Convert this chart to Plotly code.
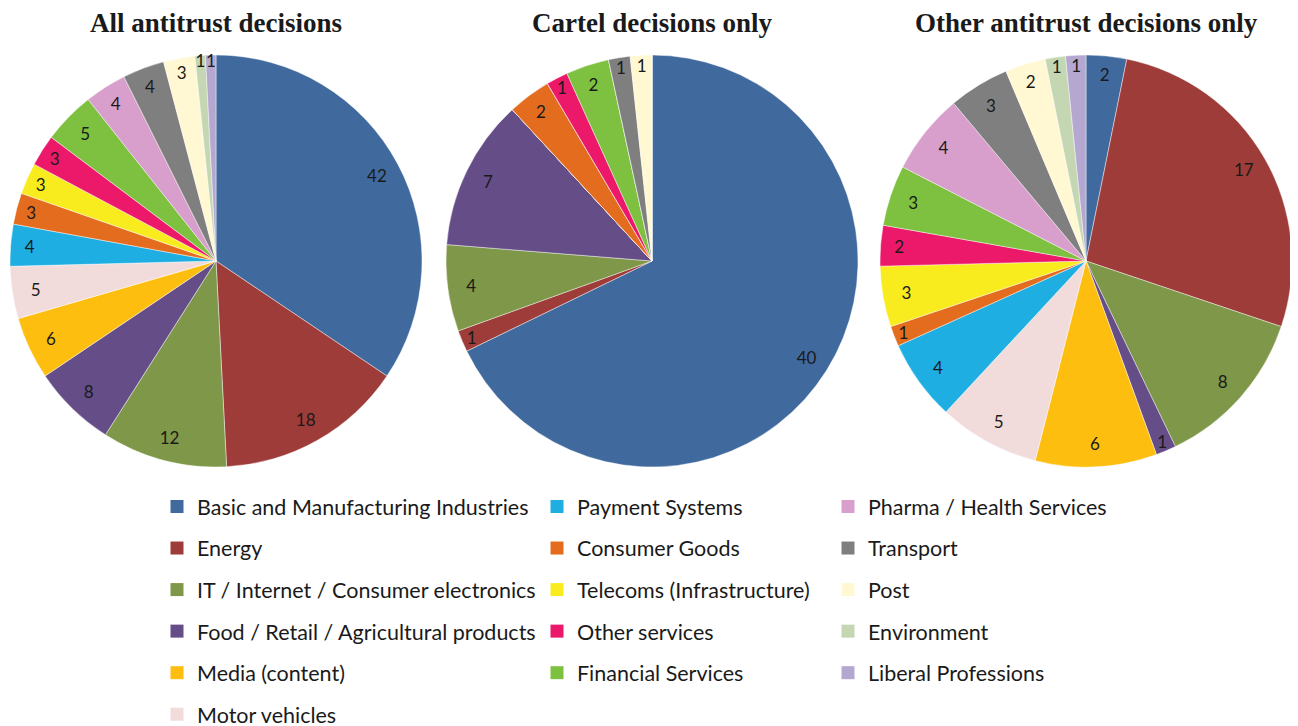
import plotly.graph_objects as go

W, H = 1298, 726
OFF = 8  # page body margin offset in the browser

categories = [
    "Basic and Manufacturing Industries",
    "Energy",
    "IT / Internet / Consumer electronics",
    "Food / Retail / Agricultural products",
    "Media (content)",
    "Motor vehicles",
    "Payment Systems",
    "Consumer Goods",
    "Telecoms (Infrastructure)",
    "Other services",
    "Financial Services",
    "Pharma / Health Services",
    "Transport",
    "Post",
    "Environment",
    "Liberal Professions",
]

colors = [
    "#40699E", "#9E3C39", "#7F9748", "#654D87", "#FDBE10", "#F2DCDB",
    "#1EAEE2", "#E46C1E", "#F9EC1E", "#EC1869", "#7EC140",
    "#D89ECC", "#7F7F7F", "#FFF8D2", "#C4D7B2", "#B4A8D0",
]

all_decisions = [42, 18, 12, 8, 6, 5, 4, 3, 3, 3, 5, 4, 4, 3, 1, 1]
cartel_decisions = [40, 1, 4, 7, 0, 0, 0, 2, 0, 1, 2, 0, 1, 1, 0, 0]
other_decisions = [2, 17, 8, 1, 6, 5, 4, 1, 3, 2, 3, 4, 3, 2, 1, 1]

titles = ["All antitrust decisions", "Cartel decisions only", "Other antitrust decisions only"]

# legend columns (column-major layout of the legend)
legend_columns = [categories[0:6], categories[6:11], categories[11:16]]

# pie layout in screen pixels (center x, center y, radius)
pie_cx = [216, 652, 1086]
pie_cy = 261
pie_r = 206

fig = go.Figure()

series = [all_decisions, cartel_decisions, other_decisions]
for i, vals in enumerate(series):
    cx = pie_cx[i] - OFF
    cy = pie_cy - OFF
    dom = dict(x=[(cx - pie_r) / W, (cx + pie_r) / W],
               y=[1 - (cy + pie_r) / H, 1 - (cy - pie_r) / H])
    fig.add_trace(go.Pie(
        labels=categories, values=vals, sort=False, direction="clockwise",
        rotation=0, domain=dom, showlegend=False, textinfo="none",
        marker=dict(colors=colors, line=dict(color="rgba(255,255,255,0.55)", width=0.8)),
        hoverinfo="label+value",
    ))
    # transparent ring overlay carrying the value labels near the outer edge
    fig.add_trace(go.Pie(
        labels=categories, values=vals, sort=False, direction="clockwise",
        rotation=0, domain=dom, showlegend=False, hole=0.77,
        text=[str(v) if v else "" for v in vals], textinfo="text",
        textposition="inside", insidetextorientation="horizontal",
        textfont=dict(family="Lato", size=17, color="#1a1a1a"),
        marker=dict(colors=["rgba(0,0,0,0)"] * len(vals), line=dict(width=0)),
        hoverinfo="skip",
    ))
    fig.add_annotation(
        x=cx / W, y=1 - (23 - OFF) / H, xref="paper", yref="paper",
        text="<b>" + titles[i] + "</b>", showarrow=False,
        xanchor="center", yanchor="middle",
        font=dict(family="Liberation Serif", size=27, color="#1a1a1a"),
    )

# legend entries
legend_names = ["legend", "legend2", "legend3"]
legend_x_px = [157 - OFF, 537 - OFF, 828 - OFF]
for col, names in enumerate(legend_columns):
    for name in names:
        idx = categories.index(name)
        fig.add_trace(go.Scatter(
            x=[None], y=[None], mode="markers", name=name,
            marker=dict(symbol="square", size=13, color=colors[idx]),
            legend=legend_names[col], legendgroup=name, showlegend=True,
            hoverinfo="skip",
        ))

legend_style = dict(
    font=dict(family="Lato", size=21.5, color="#1a1a1a"),
    bgcolor="rgba(0,0,0,0)", orientation="v", tracegroupgap=10.6,
    xanchor="left", yanchor="top", y=1 - (506 - 20 - OFF) / H,
)
fig.update_layout(
    width=W, height=H,
    margin=dict(l=0, r=0, t=0, b=0, autoexpand=False),
    paper_bgcolor="white", plot_bgcolor="white",
    template="none",
    xaxis=dict(visible=False), yaxis=dict(visible=False),
    uniformtext=dict(minsize=17, mode="show"),
    legend=dict(x=legend_x_px[0] / W, **legend_style),
    legend2=dict(x=legend_x_px[1] / W, **legend_style),
    legend3=dict(x=legend_x_px[2] / W, **legend_style),
)

fig.write_html("out.html")
